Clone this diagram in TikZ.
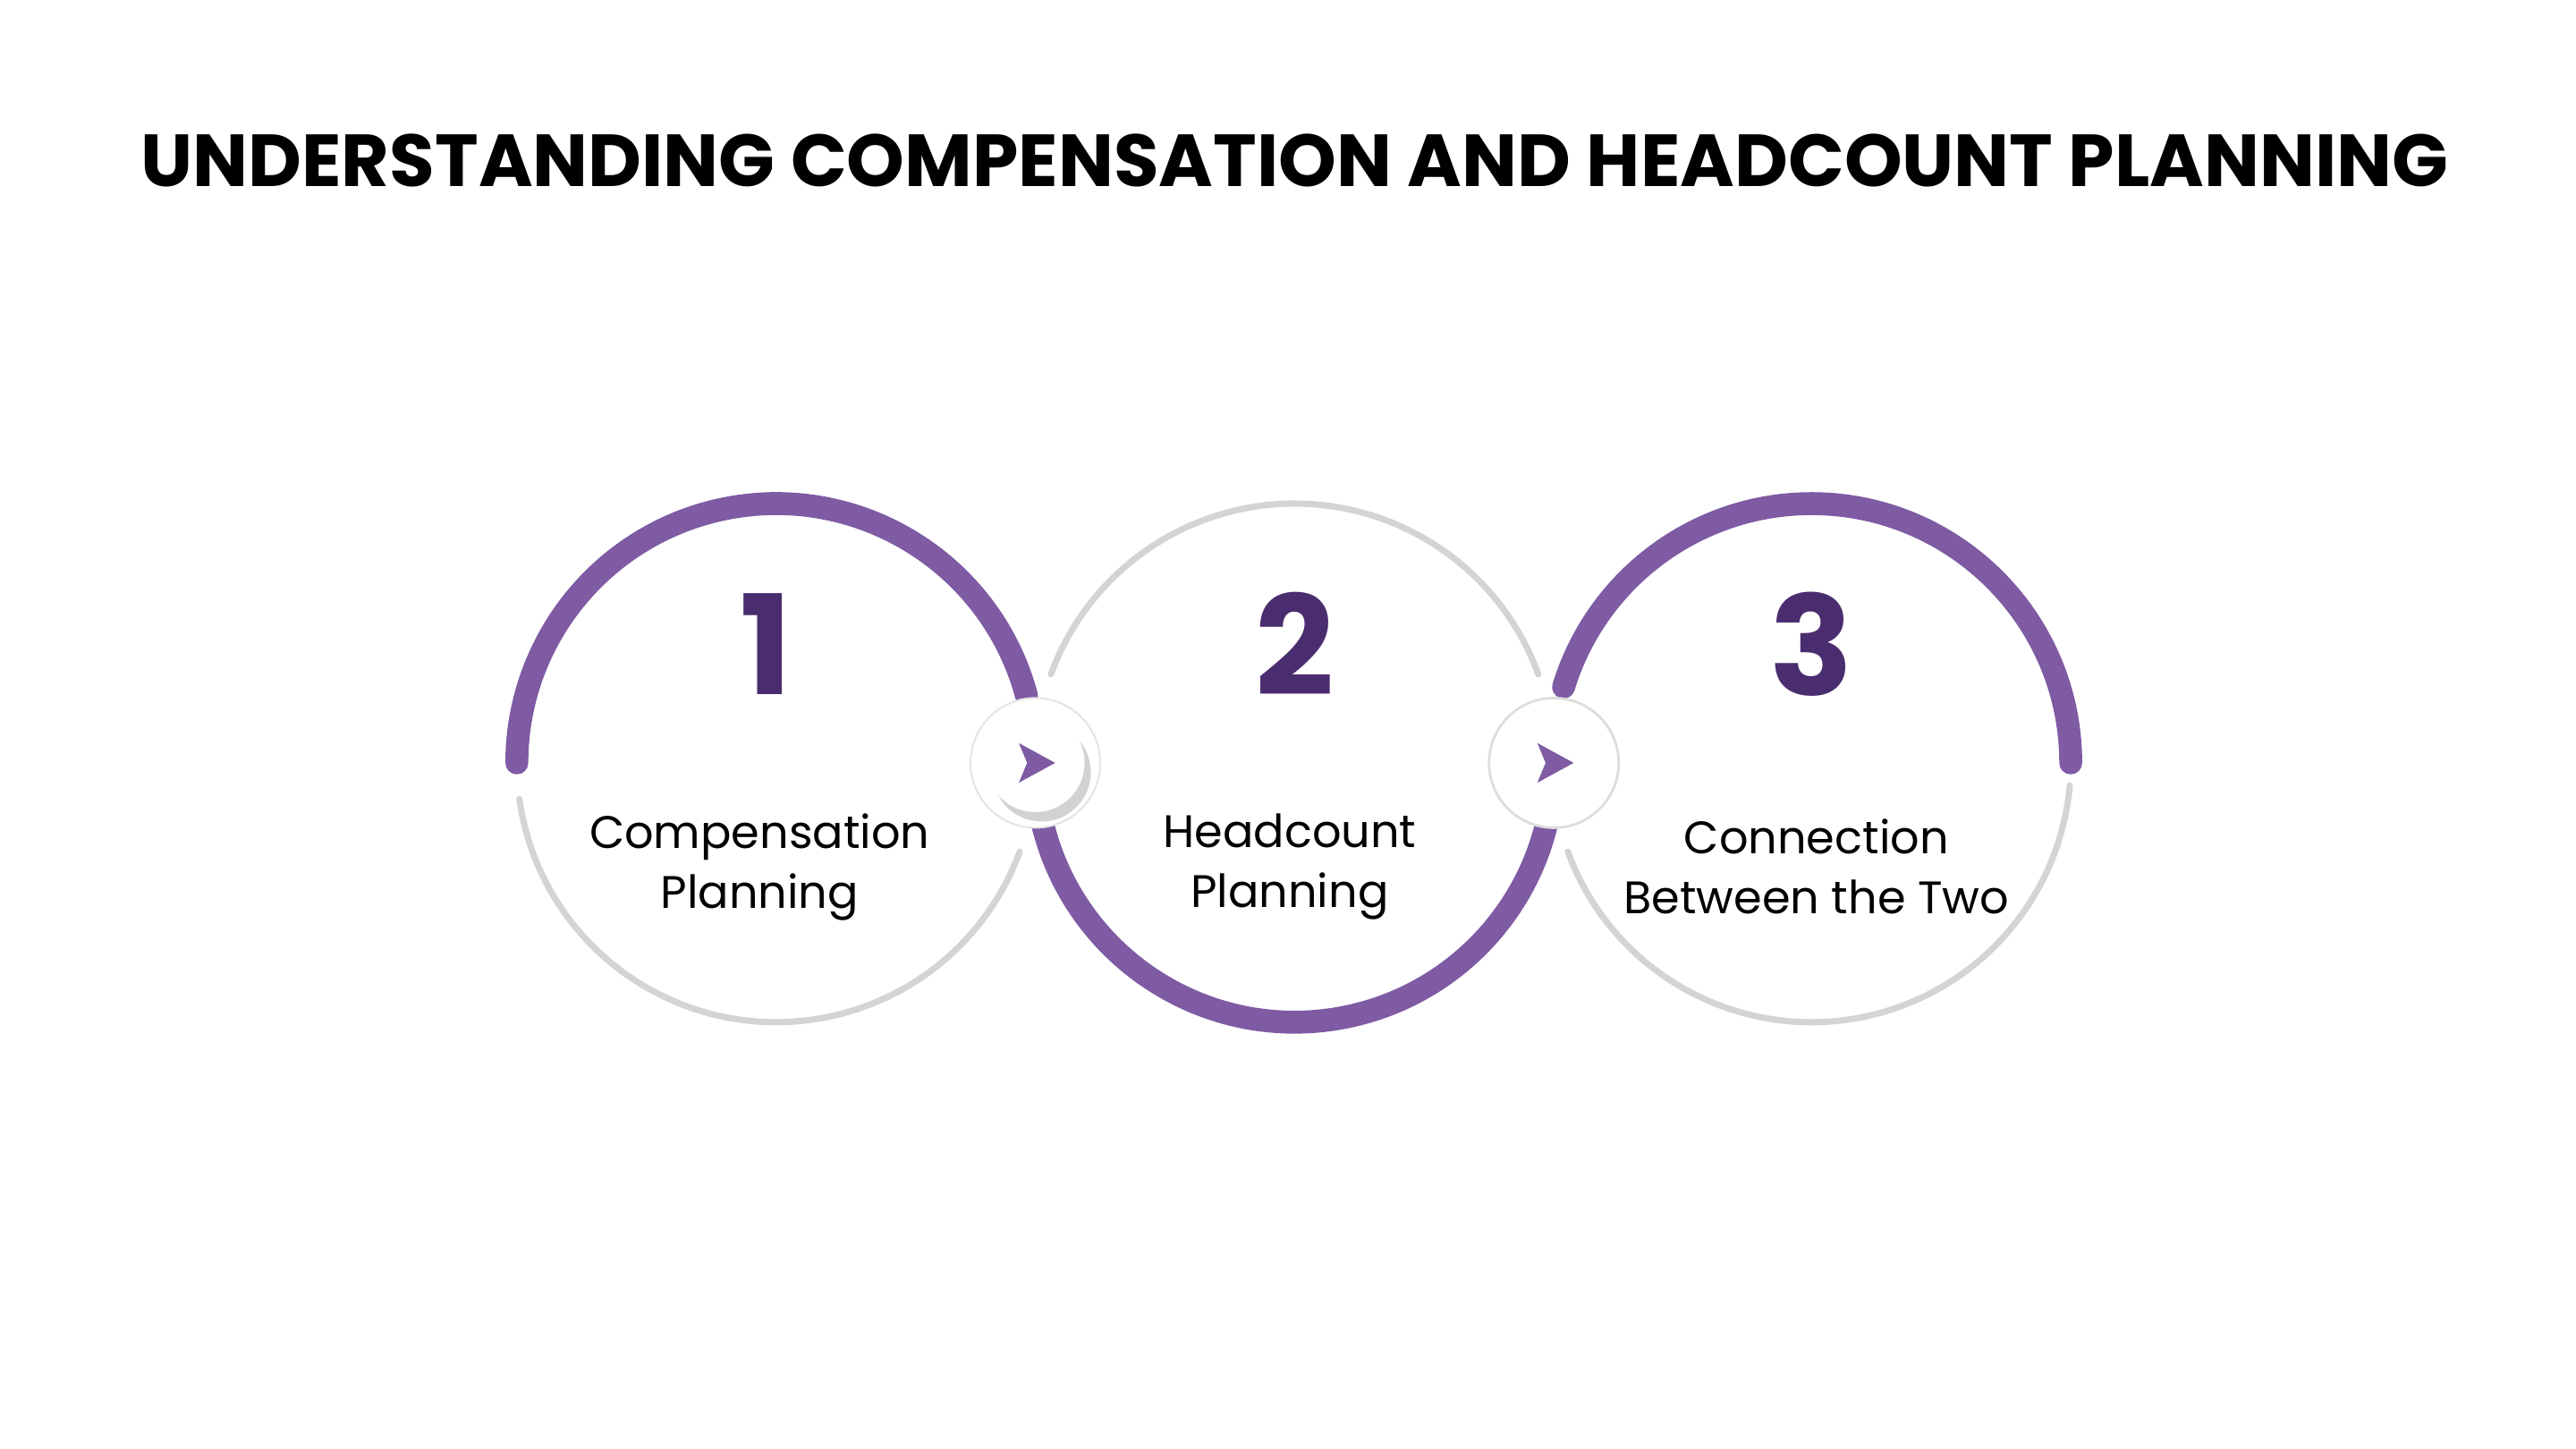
\documentclass[tikz,border=0pt]{standalone}
\usepackage{fontspec}
\setmainfont{Poppins}
\usetikzlibrary{shadows}
\definecolor{mypurple}{HTML}{7E5BA3}
\definecolor{mydark}{HTML}{4A2D6E}
\definecolor{mygray}{HTML}{D4D4D4}
\tikzset{
  thick arc/.style={draw=mypurple,line width=7.3pt,line cap=round},
  thin arc/.style={draw=mygray,line width=2pt,line cap=round},
  number/.style={text=mydark,font=\fontsize{44}{44}\selectfont\bfseries},
  label/.style={align=center,font=\fontsize{14.5}{19}\selectfont\fontseries{m}\selectfont},
  button/.style={circle,fill=white,minimum size=1.1cm,inner sep=0pt},
}
\newcommand{\chevron}[1]{\fill[mypurple] (#1) ++(12,0) -- ++(-22,12) -- ++(5,-12) -- ++(-5,-12) -- cycle;}
\begin{document}
\begin{tikzpicture}[x=0.01846cm,y=0.01846cm]
\useasboundingbox (0,0) rectangle (1560,877);
\node (title) at (784,780) {\resizebox{25.8cm}{!}{\bfseries UNDERSTANDING COMPENSATION AND HEADCOUNT PLANNING}};
% circle centres
\coordinate (c1) at (470,415);
\coordinate (c2) at (784,415);
\coordinate (c3) at (1097,415);
% step 1
\draw[thick arc] (c1) ++(15:157) arc[start angle=15,end angle=180,radius=157];
\draw[thin arc] (c1) ++(188:157) arc[start angle=188,end angle=340,radius=157];
% step 2
\draw[thin arc] (c2) ++(20:157) arc[start angle=20,end angle=160,radius=157];
\draw[thick arc] (c2) ++(190:157) arc[start angle=190,end angle=348,radius=157];
% step 3
\draw[thick arc] (c3) ++(0:157) arc[start angle=0,end angle=163,radius=157];
\draw[thin arc] (c3) ++(200:157) arc[start angle=200,end angle=355,radius=157];
% numbers and labels
\node[number] (n1) at (464,487) {1};
\node[number] (n2) at (784,487) {2};
\node[number] (n3) at (1097,487) {3};
\node[label] (l1) at (460,352) {Compensation\\Planning};
\node[label] (l2) at (781,352) {Headcount\\Planning};
\node[label] (l3) at (1100,352) {Connection\\Between the Two};
% arrow buttons
\node[circle,fill=white,draw=mygray!60,line width=0.6pt,minimum size=1.45cm] (r1) at (627,415) {};
\node[button,drop shadow={opacity=0.35,shadow xshift=2pt,shadow yshift=-3pt}] (b1) at (627,415) {};
\chevron{b1}
\node[circle,fill=white,draw=mygray!80,line width=0.8pt,minimum size=1.45cm] (b2) at (941,415) {};
\chevron{b2}
\end{tikzpicture}
\end{document}
